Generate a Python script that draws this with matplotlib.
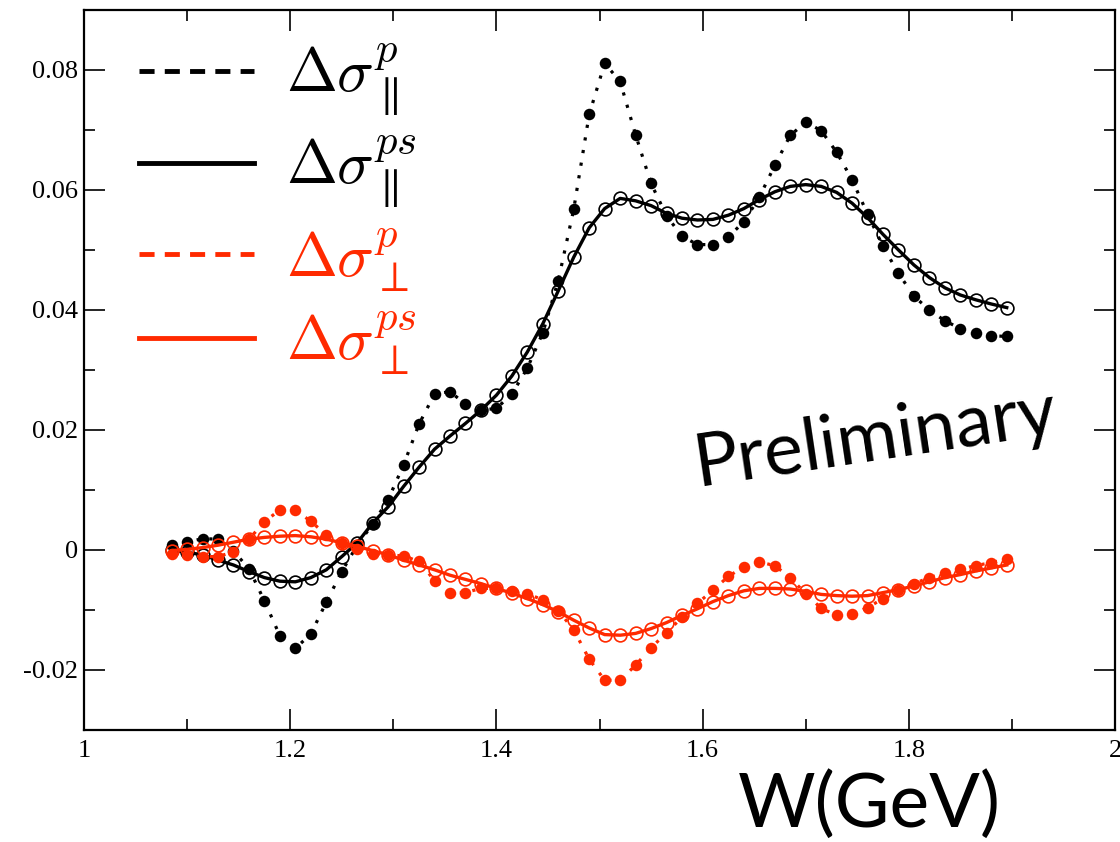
import numpy as np
import matplotlib
matplotlib.use('Agg')
from matplotlib import pyplot as plt
from matplotlib.lines import Line2D
from matplotlib.ticker import MultipleLocator, FuncFormatter

plt.rcParams['mathtext.fontset'] = 'cm'

# W grid (GeV)
w_gev = [1.085, 1.100, 1.115, 1.130, 1.145, 1.160, 1.175, 1.190, 1.205, 1.220,
         1.235, 1.250, 1.265, 1.280, 1.295, 1.310, 1.325, 1.340, 1.355, 1.370,
         1.385, 1.400, 1.415, 1.430, 1.445, 1.460, 1.475, 1.490, 1.505, 1.520,
         1.535, 1.550, 1.565, 1.580, 1.595, 1.610, 1.625, 1.640, 1.655, 1.670,
         1.685, 1.700, 1.715, 1.730, 1.745, 1.760, 1.775, 1.790, 1.805, 1.820,
         1.835, 1.850, 1.865, 1.880, 1.895]

# parallel, p (filled black)
par_p = [0.0008, 0.0013, 0.0019, 0.0018, -0.0002, -0.0031, -0.0085, -0.0143, -0.0164, -0.0140,
         -0.0087, -0.0036, 0.0008, 0.0043, 0.0084, 0.0142, 0.0210, 0.0260, 0.0264, 0.0243,
         0.0233, 0.0236, 0.0260, 0.0303, 0.0362, 0.0449, 0.0568, 0.0726, 0.0811, 0.0781,
         0.0692, 0.0611, 0.0557, 0.0523, 0.0509, 0.0509, 0.0522, 0.0547, 0.0588, 0.0641,
         0.0691, 0.0713, 0.0699, 0.0663, 0.0617, 0.0560, 0.0506, 0.0461, 0.0423, 0.0400,
         0.0382, 0.0369, 0.0362, 0.0357, 0.0356]
# parallel, ps (open black)
par_ps = [0.0000, -0.0004, -0.0008, -0.0017, -0.0025, -0.0036, -0.0046, -0.0052, -0.0053, -0.0046,
          -0.0033, -0.0011, 0.0012, 0.0045, 0.0072, 0.0106, 0.0138, 0.0168, 0.0190, 0.0211,
          0.0233, 0.0258, 0.0290, 0.0330, 0.0377, 0.0432, 0.0488, 0.0537, 0.0569, 0.0586,
          0.0582, 0.0574, 0.0561, 0.0553, 0.0550, 0.0551, 0.0558, 0.0569, 0.0584, 0.0597,
          0.0606, 0.0609, 0.0606, 0.0596, 0.0578, 0.0554, 0.0526, 0.0500, 0.0475, 0.0454,
          0.0437, 0.0425, 0.0417, 0.0410, 0.0404]
# perpendicular, p (filled red)
perp_p = [-0.0006, -0.0009, -0.0011, -0.0011, -0.0003, 0.0018, 0.0047, 0.0067, 0.0066, 0.0048,
          0.0025, 0.0011, 0.0001, -0.0006, -0.0008, -0.0010, -0.0019, -0.0051, -0.0071, -0.0071,
          -0.0064, -0.0064, -0.0069, -0.0073, -0.0083, -0.0101, -0.0133, -0.0182, -0.0217, -0.0217,
          -0.0192, -0.0163, -0.0138, -0.0112, -0.0089, -0.0067, -0.0044, -0.0028, -0.0020, -0.0026,
          -0.0046, -0.0073, -0.0097, -0.0109, -0.0107, -0.0096, -0.0081, -0.0067, -0.0056, -0.0046,
          -0.0038, -0.0032, -0.0026, -0.0021, -0.0015]
# perpendicular, ps (open red)
perp_ps = [-0.0001, 0.0001, 0.0004, 0.0008, 0.0013, 0.0018, 0.0021, 0.0023, 0.0024, 0.0022,
           0.0018, 0.0012, 0.0006, -0.0001, -0.0008, -0.0017, -0.0025, -0.0033, -0.0042, -0.0049,
           -0.0056, -0.0064, -0.0072, -0.0081, -0.0091, -0.0103, -0.0117, -0.0130, -0.0141, -0.0142,
           -0.0139, -0.0131, -0.0121, -0.0109, -0.0098, -0.0086, -0.0076, -0.0068, -0.0064, -0.0064,
           -0.0065, -0.0069, -0.0074, -0.0076, -0.0077, -0.0076, -0.0071, -0.0066, -0.0060, -0.0053,
           -0.0046, -0.0041, -0.0035, -0.0030, -0.0025]

labels = [r'$\Delta\sigma^{p}_{\parallel}$', r'$\Delta\sigma^{ps}_{\parallel}$',
          r'$\Delta\sigma^{p}_{\perp}$', r'$\Delta\sigma^{ps}_{\perp}$']

RED = '#ff2a00'
tick_font = 'Liberation Serif'

fig = plt.figure(figsize=(11.2, 8.42), dpi=100)
ax = fig.add_axes([84/1120, 1 - 730/842, (1115 - 84)/1120, 720/842])

def draw_pair(p_vals, ps_vals, color):
    # dotted curve with filled dots, solid curve with open circles
    ax.plot(w_gev, p_vals, color=color, lw=2.3, dashes=(1, 3.0),
            marker='o', ms=8.3, mfc=color, mec=color, mew=0)
    ax.plot(w_gev, ps_vals, color=color, lw=2.4, ls='-',
            marker='o', ms=9.2, mfc='none', mec=color, mew=1.2)

draw_pair(par_p, par_ps, 'black')
draw_pair(perp_p, perp_ps, RED)

ax.set_xlim(1, 2)
ax.set_ylim(-0.03, 0.09)
ax.xaxis.set_major_locator(MultipleLocator(0.2))
ax.xaxis.set_minor_locator(MultipleLocator(0.1))
ax.yaxis.set_major_locator(MultipleLocator(0.02))
ax.yaxis.set_minor_locator(MultipleLocator(0.01))
fmt = FuncFormatter(lambda v, pos: '%g' % round(v, 4))
ax.xaxis.set_major_formatter(fmt)
ax.yaxis.set_major_formatter(fmt)
ax.tick_params(which='both', direction='in', top=True, right=True, width=1.2)
ax.tick_params(which='major', length=15)
ax.tick_params(which='minor', length=8)
ax.tick_params(axis='x', pad=7)
ax.tick_params(axis='y', pad=4)
for lab in ax.get_xticklabels() + ax.get_yticklabels():
    lab.set_fontfamily(tick_font)
    lab.set_fontsize(19)
for sp in ax.spines.values():
    sp.set_linewidth(1.6)

handles = [Line2D([], [], color='black', lw=3.5, dashes=(3.1, 2.1)),
           Line2D([], [], color='black', lw=3.5),
           Line2D([], [], color=RED, lw=3.5, dashes=(3.1, 2.1)),
           Line2D([], [], color=RED, lw=3.5)]
leg = ax.legend(handles, labels, loc='upper left', bbox_to_anchor=(0.03, 0.99),
                frameon=False, fontsize=44, handlelength=1.88, handletextpad=0.52,
                labelspacing=0.26, borderaxespad=0.0)
for txt, col in zip(leg.get_texts(), ['black', 'black', RED, RED]):
    txt.set_color(col)

ax.text(0.767, 0.405, 'Preliminary', transform=ax.transAxes, fontsize=53,
        family='Lato', rotation=8.5, ha='center', va='center')

ax.set_xlabel('W(GeV)', fontsize=54, family='Lato', va='center')
ax.xaxis.set_label_coords(0.762, -0.104)

fig.savefig('out.png', dpi=100)
